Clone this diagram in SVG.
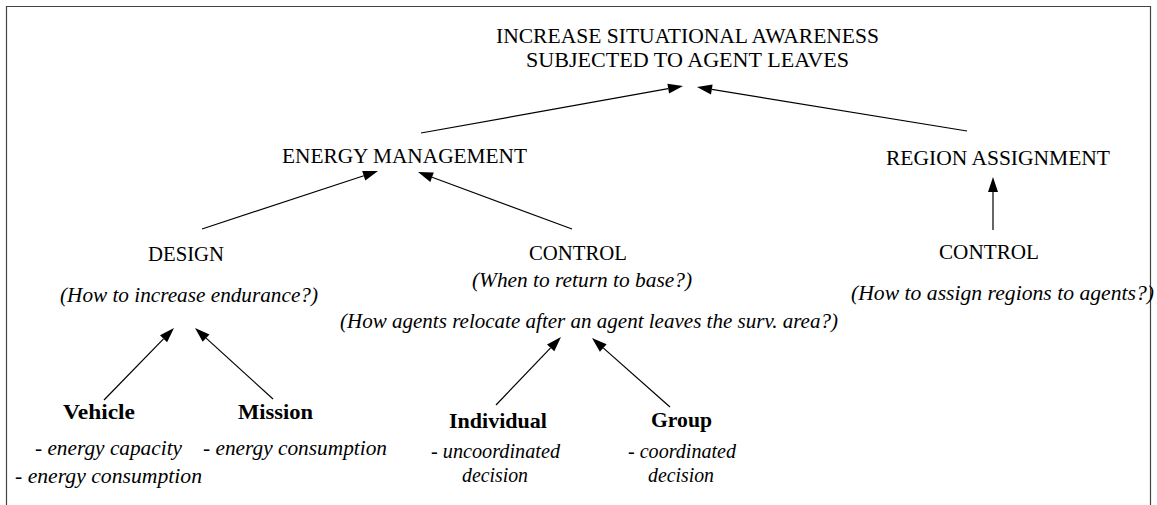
<svg xmlns="http://www.w3.org/2000/svg" width="1157" height="505" viewBox="0 0 1157 505">
  <style>
    .q { font-style: italic; }
    .b { font-weight: bold; }
    .edge { stroke: #000; stroke-width: 1.2; fill: none; }
    .head { fill: #000; stroke: none; }
  </style>
  <rect width="1157" height="505" fill="#fff"/>
  <!-- open frame: left, top and right sides -->
  <path d="M6.5,505 V6.5 H1150.5 V505" fill="none" stroke="#444" stroke-width="1.2"/>

  <g id="connectors">
    <line class="edge" x1="421" y1="133" x2="668.2" y2="88.7"/>
    <polygon class="head" points="683,86 669.1,93.6 667.4,83.7"/>
    <line class="edge" x1="967" y1="131" x2="711.8" y2="89.4"/>
    <polygon class="head" points="697,87 712.6,84.5 711.0,94.4"/>
    <line class="edge" x1="202" y1="229" x2="363.8" y2="175.7"/>
    <polygon class="head" points="378,171 365.3,180.4 362.2,170.9"/>
    <line class="edge" x1="572" y1="229" x2="432.1" y2="177.2"/>
    <polygon class="head" points="418,172 433.8,172.5 430.3,181.9"/>
    <line class="edge" x1="993" y1="230" x2="993" y2="192"/>
    <polygon class="head" points="993,177 988,192 998,192"/>
    <line class="edge" x1="104" y1="400" x2="163.5" y2="338.8"/>
    <polygon class="head" points="174,328 167.1,342.2 160.0,335.3"/>
    <line class="edge" x1="273" y1="399" x2="206.1" y2="338.1"/>
    <polygon class="head" points="195,328 209.5,334.4 202.7,341.8"/>
    <line class="edge" x1="496" y1="405" x2="550.6" y2="347.8"/>
    <polygon class="head" points="561,337 554.3,351.3 547.0,344.4"/>
    <line class="edge" x1="670" y1="407" x2="603.2" y2="347.9"/>
    <polygon class="head" points="592,338 606.6,344.2 599.9,351.7"/>
  </g>

  <g id="goal">
    <text x="687.5" y="43" text-anchor="middle" font-family="Liberation Serif" style="font-family:'Liberation Serif',serif" font-size="21" textLength="383" lengthAdjust="spacingAndGlyphs">INCREASE SITUATIONAL AWARENESS</text>
    <text x="687.5" y="67" text-anchor="middle" font-family="Liberation Serif" style="font-family:'Liberation Serif',serif" font-size="21" textLength="323" lengthAdjust="spacingAndGlyphs">SUBJECTED TO AGENT LEAVES</text>
  </g>
  <g id="energy-management">
    <text x="404.5" y="163" text-anchor="middle" font-family="Liberation Serif" style="font-family:'Liberation Serif',serif" font-size="21" textLength="245" lengthAdjust="spacingAndGlyphs">ENERGY MANAGEMENT</text>
  </g>
  <g id="region-assignment">
    <text x="998" y="165" text-anchor="middle" font-family="Liberation Serif" style="font-family:'Liberation Serif',serif" font-size="21" textLength="224" lengthAdjust="spacingAndGlyphs">REGION ASSIGNMENT</text>
  </g>
  <g id="design">
    <text x="186" y="261" text-anchor="middle" font-family="Liberation Serif" style="font-family:'Liberation Serif',serif" font-size="21" textLength="76" lengthAdjust="spacingAndGlyphs">DESIGN</text>
    <text class="q" x="189" y="302" text-anchor="middle" font-family="Liberation Serif" style="font-family:'Liberation Serif',serif" font-size="21" textLength="258" lengthAdjust="spacingAndGlyphs">(How to increase endurance?)</text>
  </g>
  <g id="energy-control">
    <text x="578" y="260" text-anchor="middle" font-family="Liberation Serif" style="font-family:'Liberation Serif',serif" font-size="21" textLength="98" lengthAdjust="spacingAndGlyphs">CONTROL</text>
    <text class="q" x="582" y="287" text-anchor="middle" font-family="Liberation Serif" style="font-family:'Liberation Serif',serif" font-size="21" textLength="220" lengthAdjust="spacingAndGlyphs">(When to return to base?)</text>
    <text class="q" x="589" y="328" text-anchor="middle" font-family="Liberation Serif" style="font-family:'Liberation Serif',serif" font-size="21" textLength="498" lengthAdjust="spacingAndGlyphs">(How agents relocate after an agent leaves the surv. area?)</text>
  </g>
  <g id="region-control">
    <text x="989" y="259" text-anchor="middle" font-family="Liberation Serif" style="font-family:'Liberation Serif',serif" font-size="21" textLength="100" lengthAdjust="spacingAndGlyphs">CONTROL</text>
    <text class="q" x="1002.5" y="300" text-anchor="middle" font-family="Liberation Serif" style="font-family:'Liberation Serif',serif" font-size="21" textLength="303" lengthAdjust="spacingAndGlyphs">(How to assign regions to agents?)</text>
  </g>
  <g id="vehicle">
    <text class="b" x="63" y="419" font-family="Liberation Serif" style="font-family:'Liberation Serif',serif" font-size="21" textLength="72" lengthAdjust="spacingAndGlyphs">Vehicle</text>
    <text class="q" x="35" y="455" font-family="Liberation Serif" style="font-family:'Liberation Serif',serif" font-size="21" textLength="147" lengthAdjust="spacingAndGlyphs">- energy capacity</text>
    <text class="q" x="15" y="483" font-family="Liberation Serif" style="font-family:'Liberation Serif',serif" font-size="21" textLength="187" lengthAdjust="spacingAndGlyphs">- energy consumption</text>
  </g>
  <g id="mission">
    <text class="b" x="238" y="419" font-family="Liberation Serif" style="font-family:'Liberation Serif',serif" font-size="21" textLength="75" lengthAdjust="spacingAndGlyphs">Mission</text>
    <text class="q" x="203" y="455" font-family="Liberation Serif" style="font-family:'Liberation Serif',serif" font-size="21" textLength="184" lengthAdjust="spacingAndGlyphs">- energy consumption</text>
  </g>
  <g id="individual">
    <text class="b" x="449" y="428" font-family="Liberation Serif" style="font-family:'Liberation Serif',serif" font-size="21" textLength="98" lengthAdjust="spacingAndGlyphs">Individual</text>
    <text class="q" x="431" y="458" font-family="Liberation Serif" style="font-family:'Liberation Serif',serif" font-size="21" textLength="129" lengthAdjust="spacingAndGlyphs">- uncoordinated</text>
    <text class="q" x="462" y="482" font-family="Liberation Serif" style="font-family:'Liberation Serif',serif" font-size="21" textLength="66" lengthAdjust="spacingAndGlyphs">decision</text>
  </g>
  <g id="coordinated-group">
    <text class="b" x="651" y="427" font-family="Liberation Serif" style="font-family:'Liberation Serif',serif" font-size="21" textLength="61" lengthAdjust="spacingAndGlyphs">Group</text>
    <text class="q" x="628" y="458" font-family="Liberation Serif" style="font-family:'Liberation Serif',serif" font-size="21" textLength="108" lengthAdjust="spacingAndGlyphs">- coordinated</text>
    <text class="q" x="648" y="482" font-family="Liberation Serif" style="font-family:'Liberation Serif',serif" font-size="21" textLength="66" lengthAdjust="spacingAndGlyphs">decision</text>
  </g>
</svg>
